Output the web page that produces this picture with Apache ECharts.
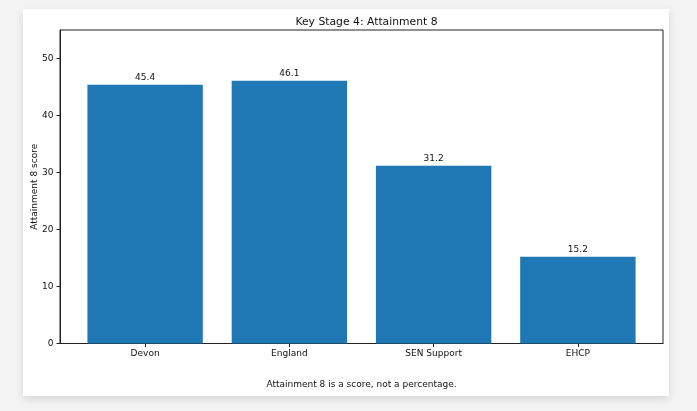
<!DOCTYPE html>
<html><head><meta charset="utf-8">
<script src="https://cdn.jsdelivr.net/npm/echarts@6/dist/echarts.min.js"></script>
<style>
html,body{margin:0;padding:0;background:#f3f3f3;}
#card{position:absolute;left:23px;top:9px;width:646px;height:387px;background:#fff;box-shadow:0 3px 8px rgba(0,0,0,0.12);}
#c{position:absolute;left:0;top:0;width:697px;height:411px;}
</style></head>
<body>
<div id="card"></div>
<div id="c"></div>
<script>
const categories = ['Devon', 'England', 'SEN Support', 'EHCP'];
const scores = [45.4, 46.1, 31.2, 15.2];
const yTicks = [0, 10, 20, 30, 40, 50];

const chart = echarts.init(document.getElementById('c'), null, {renderer: 'canvas'});
const font = 'DejaVu Sans';
const idx = categories.map((c, i) => i);
chart.setOption({
  animation: false,
  backgroundColor: 'transparent',
  textStyle: {fontFamily: font},
  title: {
    text: 'Key Stage 4: Attainment 8',
    left: 361.5, top: 12, textAlign: 'center',
    textStyle: {fontFamily: font, fontSize: 10.8, fontWeight: 'normal', color: '#111'}
  },
  graphic: [{
    type: 'text', x: 361.5, y: 385,
    style: {text: 'Attainment 8 is a score, not a percentage.', font: '9px "DejaVu Sans"', fill: '#111', textAlign: 'center', textVerticalAlign: 'middle'}
  }],
  grid: {left: 60, right: 34, top: 30, bottom: 67.5, show: true, borderColor: '#222', borderWidth: 1, backgroundColor: 'transparent'},
  xAxis: {
    type: 'value', min: -0.59, max: 3.59,
    axisLine: {show: true, onZero: false, lineStyle: {color: '#222', width: 1}},
    splitLine: {show: false},
    axisTick: {show: true, length: 3.5, lineStyle: {color: '#222'}, customValues: idx},
    axisLabel: {customValues: idx, margin: 5.5, fontFamily: font, fontSize: 9, color: '#111',
      formatter: v => categories[Math.round(v)]}
  },
  yAxis: {
    type: 'value', min: 0, max: 55,
    name: 'Attainment 8 score', nameLocation: 'middle', nameGap: 21, nameMoveOverlap: false,
    nameTextStyle: {fontFamily: font, fontSize: 9, color: '#111'},
    axisLine: {show: true, onZero: false, lineStyle: {color: '#222', width: 1}},
    splitLine: {show: false},
    axisTick: {show: true, length: 3.5, lineStyle: {color: '#222'}, customValues: yTicks},
    axisLabel: {customValues: yTicks, margin: 6.5, fontFamily: font, fontSize: 9, color: '#111'}
  },
  series: [{
    type: 'bar',
    data: scores.map((v, i) => [i, v]),
    barWidth: 115.4,
    itemStyle: {color: '#1f77b4'},
    label: {show: true, position: 'top', distance: 2.5, fontFamily: font, fontSize: 9, color: '#111',
      formatter: p => p.value[1].toFixed(1)}
  }]
});
</script>
</body></html>
